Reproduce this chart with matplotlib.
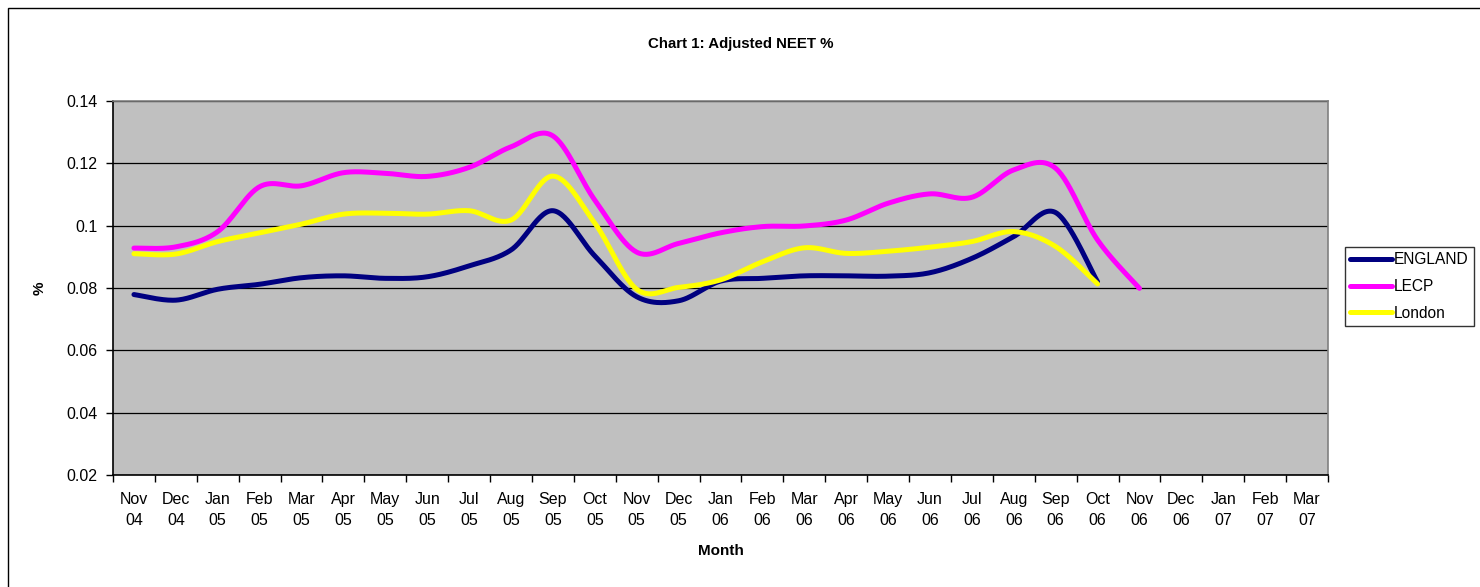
import numpy as np
import matplotlib
matplotlib.use("Agg")
import matplotlib.pyplot as plt
from matplotlib.patches import Rectangle

plt.rcParams['font.family'] = ['Liberation Sans', 'DejaVu Sans']

months = ["Nov\n04", "Dec\n04", "Jan\n05", "Feb\n05", "Mar\n05", "Apr\n05", "May\n05",
          "Jun\n05", "Jul\n05", "Aug\n05", "Sep\n05", "Oct\n05", "Nov\n05", "Dec\n05",
          "Jan\n06", "Feb\n06", "Mar\n06", "Apr\n06", "May\n06", "Jun\n06", "Jul\n06",
          "Aug\n06", "Sep\n06", "Oct\n06", "Nov\n06", "Dec\n06", "Jan\n07", "Feb\n07",
          "Mar\n07"]

england = [0.0779, 0.0761, 0.0796, 0.0812, 0.0833, 0.0839, 0.0831, 0.0836, 0.0871, 0.0922,
           0.1048, 0.0903, 0.0772, 0.0759, 0.0822, 0.0831, 0.0839, 0.0839, 0.0838, 0.0849,
           0.0895, 0.0965, 0.1042, 0.0820]
lecp = [0.0928, 0.0932, 0.0981, 0.1125, 0.1128, 0.1170, 0.1168, 0.1158, 0.1187, 0.1253,
        0.1288, 0.1082, 0.0915, 0.0943, 0.0977, 0.0997, 0.0999, 0.1018, 0.1072, 0.1102,
        0.1091, 0.1179, 0.1184, 0.0954, 0.0799]
london = [0.0910, 0.0909, 0.0949, 0.0977, 0.1005, 0.1037, 0.1040, 0.1037, 0.1048, 0.1018,
          0.1159, 0.1008, 0.0796, 0.0802, 0.0826, 0.0884, 0.0929, 0.0911, 0.0918, 0.0931,
          0.0949, 0.0981, 0.0933, 0.0813]

series = [("ENGLAND", england, "#000080"),
          ("LECP", lecp, "#FF00FF"),
          ("London", london, "#FFFF00")]


def smooth(vals, n=30):
    """Excel-style smoothed line (Bezier through points)."""
    p = np.array([(i, v) for i, v in enumerate(vals)], dtype=float)
    m = len(p)
    out = []
    for i in range(m - 1):
        p0 = p[i]
        p3 = p[i + 1]
        pm = p[i - 1] if i > 0 else p[i]
        pp = p[i + 2] if i + 2 < m else p[i + 1]
        c1 = p0 + (p3 - pm) / 6.0
        c2 = p3 - (pp - p0) / 6.0
        t = np.linspace(0, 1, n)[:, None]
        seg = ((1 - t) ** 3) * p0 + 3 * ((1 - t) ** 2) * t * c1 + 3 * (1 - t) * t ** 2 * c2 + t ** 3 * p3
        out.append(seg if i == 0 else seg[1:])
    out = np.vstack(out)
    return out[:, 0], out[:, 1]


fig = plt.figure(figsize=(14.8, 5.87), dpi=100)
fig.patches.append(Rectangle((8 / 1480, -0.1), 1.2, 1 - 8 / 587 + 0.1, transform=fig.transFigure,
                             fill=False, edgecolor="black", linewidth=1.0))

ax = fig.add_axes([113 / 1480, 1 - 475 / 587, (1328 - 113) / 1480, (475 - 101) / 587])
ax.set_facecolor("#C0C0C0")

for name, vals, col in series:
    x, y = smooth(vals)
    ax.plot(x, y, color=col, linewidth=3.6, label=name, solid_capstyle="round",
            solid_joinstyle="round")

ax.set_xlim(-0.5, len(months) - 0.5)
ax.set_ylim(0.02, 0.14)
ax.set_yticks([0.02, 0.04, 0.06, 0.08, 0.1, 0.12, 0.14])
ax.set_yticklabels(["0.02", "0.04", "0.06", "0.08", "0.1", "0.12", "0.14"], fontsize=11.5)
ax.yaxis.grid(True, color="black", linewidth=0.9)
ax.set_axisbelow(True)

ax.set_xticks(np.arange(len(months)))
ax.set_xticklabels(months, fontsize=11.5, linespacing=1.55)
ax.set_xticks(np.arange(len(months) + 1) - 0.5, minor=True)
ax.tick_params(axis="x", which="major", length=0, pad=12)
ax.tick_params(axis="x", which="minor", length=5, width=1, direction="out")
ax.tick_params(axis="y", length=5, width=1, direction="out", pad=6)

for s in ["left", "bottom"]:
    ax.spines[s].set_color("black")
    ax.spines[s].set_linewidth(1.2)
for s in ["right", "top"]:
    ax.spines[s].set_color("#808080")
    ax.spines[s].set_linewidth(1.2)

ax.set_xlabel("Month", fontsize=11, fontweight="bold", labelpad=11)
ax.set_ylabel("%", fontsize=11, fontweight="bold", labelpad=14)
fig.text(741 / 1480, 1 - 44 / 587, "Chart 1: Adjusted NEET %", fontsize=10.8, fontweight="bold",
         ha="center", va="center")

leg = fig.legend(loc="upper left", bbox_to_anchor=(1345 / 1480, 1 - 247 / 587),
                 fontsize=11.2, frameon=True, fancybox=False, edgecolor="black",
                 handlelength=2.7, handletextpad=0.1, borderpad=0.35, labelspacing=0.75,
                 borderaxespad=0)
leg.get_frame().set_linewidth(1.0)

fig.savefig("out.png", dpi=100)
